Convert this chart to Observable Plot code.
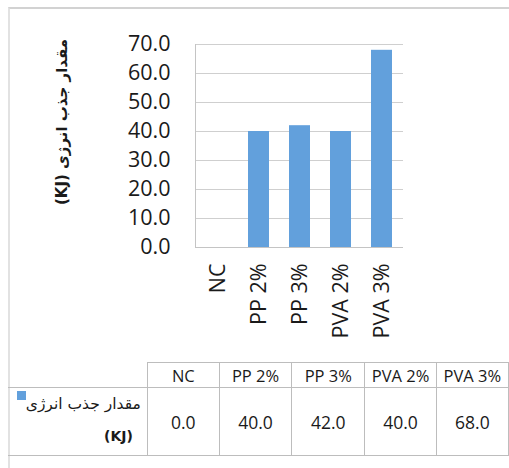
<!DOCTYPE html>
<html>
<head>
<meta charset="utf-8">
<script src="https://cdn.jsdelivr.net/npm/d3@7"></script>
<script src="https://cdn.jsdelivr.net/npm/@observablehq/plot@0.6"></script>
<style>
  html, body { margin: 0; padding: 0; background: #fff; }
  #wrap { position: relative; width: 509px; height: 468px; overflow: hidden; background: #fff; font-family: "Open Sans", "DejaVu Sans", sans-serif; }
  #frame { position: absolute; left: 8px; top: 7px; width: 600px; height: 600px; border-top: 2px solid #d2d2d2; border-left: 2px solid #e2e2e2; }
  #chart { position: absolute; left: 0; top: 0; }
  #tbl { position: absolute; left: 8px; top: 362px; border-collapse: collapse; table-layout: fixed; color: #1a1a1a; }
  #tbl td { border: 1px solid #bdbdbd; text-align: center; padding: 0; font-size: 17px; }
  #tbl tr.head td { height: 24px; font-size: 16.5px; }
  #tbl tr.vals td { height: 67px; font-size: 17.5px; }
  #tbl td.blank { border: none; border-bottom: 1px solid #bdbdbd; }
  #tbl td.leg { border-left: none; position: relative; }
  .sw { position: absolute; left: 9px; top: 3px; width: 9px; height: 9px; }
  .l1 { position: absolute; right: 6px; top: 7px; font-size: 15.5px; direction: rtl; white-space: nowrap; font-family: "DejaVu Sans", sans-serif; }
  .l2 { position: absolute; left: 96px; top: 40px; font-size: 14px; font-weight: bold; white-space: nowrap; font-family: "DejaVu Sans", sans-serif; }
</style>
</head>
<body>
<div id="wrap">
  <div id="frame"></div>
  <div id="chart"></div>
  <table id="tbl"></table>
</div>
<script>
const categories = ["NC", "PP 2%", "PP 3%", "PVA 2%", "PVA 3%"];
const values = [0.0, 40.0, 42.0, 40.0, 68.0];
const yTicks = [0, 10, 20, 30, 40, 50, 60, 70];
const yLabel = "مقدار جذب انرژی (KJ)";
const seriesName = "مقدار جذب انرژی";
const seriesUnit = "(KJ)";
const barColor = "#62a0dc";

const data = categories.map((c, i) => ({cat: c, value: values[i]}));

const chart = Plot.plot({
  width: 509,
  height: 360,
  marginLeft: 195,
  marginRight: 106,
  marginTop: 44,
  marginBottom: 113,
  style: {fontFamily: "'Open Sans', sans-serif", fontSize: "21.5px", color: "#1a1a1a", background: "transparent"},
  x: {domain: categories, paddingInner: 0.5, paddingOuter: 0.25, align: 0.5},
  y: {domain: [0, 70]},
  marks: [
    Plot.gridY(yTicks, {stroke: "#cfcfcf", strokeOpacity: 1}),
    Plot.frame({anchor: "left", stroke: "#c4c4c4"}),
    Plot.barY(data, {x: "cat", y: "value", fill: barColor}),
    Plot.ruleY([0], {stroke: "#c4c4c4"}),
    Plot.axisY(yTicks, {tickSize: 0, tickPadding: 25, tickFormat: d => d.toFixed(1), label: null}),
    Plot.axisX({tickSize: 0, tickRotate: -90, tickPadding: 16, label: null}),
    // RTL embedding so "(KJ)" sits at the start (bottom) as in the reference
    Plot.text([yLabel], {text: d => "\u202B" + d + "\u202C", frameAnchor: "left", rotate: -90, dx: -133, dy: -24, fontWeight: "bold", fontSize: 15, fontFamily: "'DejaVu Sans', sans-serif"})
  ]
});
document.getElementById("chart").appendChild(chart);

// re-centre the RTL label on its anchor (browser bidi + text-anchor quirk)
const lbl = chart.querySelector('g[aria-label="text"] text');
if (lbl) {
  const bb = lbl.getBBox();
  const shift = -(bb.x + bb.width / 2);
  lbl.setAttribute("transform", (lbl.getAttribute("transform") || "") + ` translate(${shift},0)`);
}

// data table below the chart
const tbl = document.getElementById("tbl");
const colg = document.createElement("colgroup");
[142, 73, 73, 74, 72, 73].forEach(w => { const c = document.createElement("col"); c.style.width = w + "px"; colg.appendChild(c); });
tbl.appendChild(colg);
const hr = document.createElement("tr"); hr.className = "head";
const b = document.createElement("td"); b.className = "blank"; hr.appendChild(b);
categories.forEach(c => { const td = document.createElement("td"); td.textContent = c; hr.appendChild(td); });
tbl.appendChild(hr);
const vr = document.createElement("tr"); vr.className = "vals";
const leg = document.createElement("td"); leg.className = "leg";
const sw = document.createElement("div"); sw.className = "sw"; sw.style.background = barColor; leg.appendChild(sw);
const l1 = document.createElement("div"); l1.className = "l1"; l1.textContent = seriesName; leg.appendChild(l1);
const l2 = document.createElement("div"); l2.className = "l2"; l2.textContent = seriesUnit; leg.appendChild(l2);
vr.appendChild(leg);
values.forEach(v => { const td = document.createElement("td"); td.textContent = v.toFixed(1); vr.appendChild(td); });
tbl.appendChild(vr);
</script>
</body>
</html>
